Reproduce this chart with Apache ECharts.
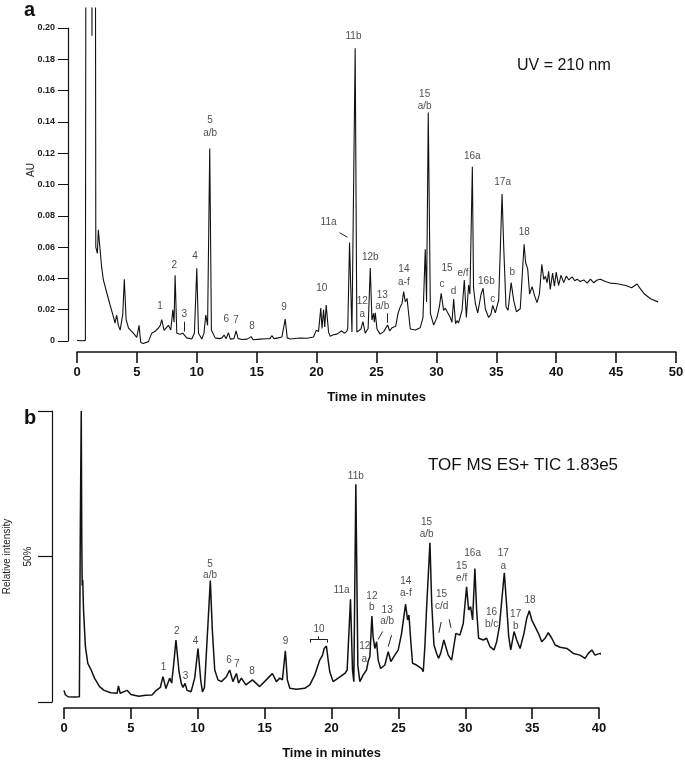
<!DOCTYPE html>
<html><head><meta charset="utf-8">
<script src="https://cdn.jsdelivr.net/npm/echarts@6/dist/echarts.min.js"></script>
<style>html,body{margin:0;padding:0;background:#fff}#c{width:685px;height:760px}</style>
</head><body><div id="c"></div>
<script>
// ---- Panel a : UV 210 nm chromatogram (time in min, absorbance in AU) ----
const uvTime = [0.0,0.5,0.7,0.78,1.2,1.25,1.3,1.5,1.57,1.7,1.78,1.92,2.06,2.2,2.48,2.76,2.95,3.03,3.18,3.31,3.45,3.6,3.82,3.95,4.1,4.3,4.43,4.7,4.99,5.18,5.32,5.54,5.96,6.24,6.5,6.8,6.95,7.07,7.27,7.63,7.83,8.0,8.1,8.19,8.33,8.6,8.83,8.97,9.16,9.58,9.8,10.0,10.14,10.42,10.6,10.75,10.9,11.08,11.22,11.53,11.9,12.1,12.28,12.45,12.64,12.8,13.1,13.28,13.45,13.8,14.2,14.54,14.7,15.3,15.8,16.1,16.26,16.45,16.8,17.1,17.38,17.55,17.65,17.8,18.6,19.2,19.74,19.97,20.16,20.35,20.45,20.58,20.68,20.8,21.0,21.14,21.4,21.7,22.1,22.3,22.5,22.6,22.75,22.95,23.1,23.22,23.36,23.7,23.87,24.06,24.3,24.48,24.62,24.75,24.82,24.9,25.04,25.3,25.6,25.93,26.1,26.3,26.6,26.8,27.0,27.13,27.27,27.4,27.55,27.68,27.82,28.24,28.65,28.88,29.07,29.18,29.32,29.5,29.77,30.05,30.25,30.4,30.6,30.75,30.9,31.16,31.3,31.44,31.6,31.72,31.85,32.14,32.33,32.5,32.69,32.8,33.0,33.1,33.25,33.45,33.73,33.9,34.08,34.36,34.55,34.7,34.92,35.2,35.48,35.62,35.81,35.98,36.24,36.45,36.68,37.0,37.32,37.45,37.62,37.78,37.99,38.2,38.4,38.6,38.8,38.96,39.1,39.24,39.37,39.5,39.7,39.85,40.0,40.2,40.4,40.63,40.85,41.05,41.33,41.55,41.75,42.0,42.3,42.58,42.86,43.13,43.42,43.7,44.1,44.5,45.1,45.8,46.3,46.75,47.0,47.37,47.87,48.5];
const uvAbs = [0.0003,0.0002,0.0004,0.5,0.5,0.195,0.5,0.5,0.06,0.056,0.071,0.072,0.047,0.039,0.031,0.023,0.018,0.018,0.0115,0.0166,0.010,0.007,0.017,0.0395,0.0136,0.0083,0.0085,0.005,0.0023,0.010,-0.001,-0.0016,-0.0004,0.005,0.006,0.0083,0.010,0.0137,0.0068,0.010,0.007,0.020,0.012,0.042,0.005,0.0043,0.005,0.0045,0.002,0.0013,0.005,0.0465,0.005,0.0013,0.005,0.0166,0.010,0.123,0.007,0.002,0.0015,0.002,0.0038,0.0015,0.0053,0.0012,0.0015,0.0064,0.0015,0.001,0.0012,0.0028,0.0008,0.0012,0.0014,0.0015,0.0034,0.0015,0.002,0.0025,0.014,0.002,0.003,0.0013,0.0019,0.0018,0.0025,0.0068,0.006,0.021,0.008,0.020,0.009,0.023,0.0055,0.003,0.004,0.0044,0.0065,0.005,0.006,0.008,0.063,0.0057,0.006,0.187,0.0057,0.0077,0.0124,0.005,0.008,0.0466,0.0134,0.0177,0.012,0.018,0.0077,0.0044,0.006,0.0102,0.0064,0.0085,0.0094,0.0177,0.0221,0.024,0.0315,0.0251,0.0272,0.0177,0.0077,0.007,0.0085,0.015,0.0586,0.025,0.146,0.0177,0.0102,0.0151,0.022,0.0305,0.0196,0.021,0.0187,0.015,0.012,0.0268,0.011,0.013,0.0115,0.0196,0.039,0.015,0.0358,0.03,0.1114,0.034,0.024,0.018,0.030,0.0337,0.0206,0.015,0.017,0.0228,0.018,0.0262,0.094,0.060,0.0219,0.0196,0.0373,0.026,0.0187,0.0206,0.0618,0.050,0.0461,0.030,0.0347,0.0288,0.0245,0.030,0.049,0.0393,0.0413,0.0372,0.0445,0.033,0.0434,0.035,0.044,0.0356,0.042,0.0373,0.0415,0.039,0.041,0.0385,0.0395,0.038,0.039,0.037,0.0395,0.0372,0.039,0.0395,0.038,0.037,0.0366,0.0355,0.034,0.0364,0.0336,0.030,0.027,0.025];

// peak annotations panel a: [time, AU, text]
const uvLabels = [[6.93,0.0219,'1'],[8.13,0.0486,'2'],[8.96,0.0173,'3'],[9.86,0.0539,'4'],[11.11,0.1408,'5'],[11.11,0.1327,'a/b'],[12.47,0.0139,'6'],[13.28,0.013,'7'],[14.6,0.0096,'8'],[17.29,0.0213,'9'],[20.44,0.0337,'10'],[21.0,0.0762,'11a'],[23.08,0.1949,'11b'],[23.81,0.0251,'12'],[23.81,0.0173,'a'],[24.48,0.0532,'12b'],[25.48,0.0294,'13'],[25.48,0.0219,'a/b'],[27.29,0.0458,'14'],[27.29,0.0375,'a-f'],[29.02,0.1578,'15'],[29.02,0.1502,'a/b'],[30.88,0.0468,'15'],[30.47,0.0364,'c'],[31.44,0.032,'d'],[32.22,0.0433,'e/f'],[33.0,0.1182,'16a'],[34.17,0.0383,'16b'],[34.7,0.0266,'c'],[35.53,0.1012,'17a'],[36.34,0.0437,'b'],[37.34,0.0692,'18']];
// leader strokes panel a: [t1, v1, t2, v2]
const uvLeaders = [[8.96,0.0123,8.96,0.006],[21.92,0.0692,22.58,0.0663],[25.93,0.0177,25.93,0.0117]];

// ---- Panel b : TOF MS ES+ TIC (time in min, relative intensity %) ----
const msTime = [0.0,0.1,0.3,0.8,1.15,1.22,1.29,1.33,1.36,1.4,1.46,1.6,1.78,2.03,2.28,2.66,3.0,3.5,3.97,4.07,4.2,4.72,5.0,5.6,6.1,6.58,6.9,7.2,7.4,7.62,7.9,8.05,8.22,8.37,8.6,8.77,8.9,9.05,9.2,9.5,9.77,10.02,10.22,10.35,10.5,10.59,10.72,10.94,11.09,11.27,11.51,11.77,12.14,12.39,12.63,12.89,13.05,13.26,13.6,14.09,14.63,15.25,15.58,15.88,16.13,16.33,16.55,16.7,16.88,17.38,18.0,18.38,18.75,19.12,19.33,19.45,19.62,19.75,19.87,20.12,20.5,21.0,21.17,21.42,21.57,21.67,21.82,21.97,22.12,22.37,22.62,22.74,22.87,23.02,23.11,23.24,23.37,23.49,23.67,23.99,24.24,24.44,24.66,24.99,25.24,25.54,25.69,25.79,25.94,26.06,26.36,26.74,26.86,26.98,27.11,27.36,27.49,27.66,27.86,28.0,28.16,28.4,28.73,28.98,29.3,29.6,29.85,30.1,30.25,30.4,30.55,30.72,30.85,31.0,31.35,31.6,31.85,32.15,32.35,32.55,32.92,33.1,33.25,33.4,33.65,33.85,34.1,34.39,34.6,34.79,34.97,35.22,35.47,35.72,35.97,36.21,36.47,36.72,37.09,37.6,38.08,38.58,38.96,39.2,39.46,39.7,40.08,40.46];
const msRel = [4.0,2.5,1.8,1.7,1.8,60,100,55,40,42,31.6,19,13.3,11,8.2,5.3,4.0,3.2,3.0,5.5,3.0,4.0,2.6,2.0,2.3,2.4,4.0,5.0,8.7,4.6,8.2,6.5,13.8,21.3,10.4,6.4,5.0,6.4,4.0,3.5,8.2,18.4,7.6,3.5,5.0,12.1,12.5,41.7,24.7,11,7.6,7,8.7,11,7,9.8,6.5,8.2,5.9,7.6,5.3,8.2,9.8,7,8.2,7.6,17.6,7.6,4.7,4.4,4.7,5.9,9.3,14.4,16.1,18.4,19.2,14.4,10.4,7,8.2,9.8,11,35.3,11,7,74.8,12.5,7,9.3,11,13.9,15.6,29.5,22.4,18.4,20.7,14.4,11.5,12.7,17.3,13.9,15.6,17.9,23.6,33.6,28.2,29.9,20.2,13.3,12.7,11.5,10.4,19,32.3,54.7,34.1,19.6,16.7,15,16.7,21.3,16.1,14.4,23.6,23,27,39.6,31.6,32.8,28.2,45.9,31.6,21.9,21.3,21.9,19,17.9,20.7,25.9,44.4,32.8,22.5,17.9,24.2,21.3,18.4,23.6,28.8,31.4,28.2,25.9,23.6,20.7,21.9,23.8,21.9,19.6,18.8,18.4,16.7,16.1,15,16.7,17.9,16.1,16.7,15.6];

// peak annotations panel b: [time, %, text]
const msLabels = [[7.45,11.9,'1'],[8.44,24.2,'2'],[9.09,9.0,'3'],[9.84,21.0,'4'],[10.92,47.4,'5'],[10.92,43.4,'a/b'],[12.34,14.2,'6'],[12.91,12.9,'7'],[14.06,10.7,'8'],[16.56,21.0,'9'],[19.07,25.1,'10'],[20.75,38.3,'11a'],[21.82,77.7,'11b'],[23.02,36.4,'12'],[23.02,32.4,'b'],[22.49,19.2,'12'],[22.45,14.8,'a'],[24.16,31.6,'13'],[24.16,27.6,'a/b'],[25.56,41.6,'14'],[25.56,37.3,'a-f'],[27.11,61.6,'15'],[27.11,57.7,'a/b'],[28.23,37.1,'15'],[28.23,32.8,'c/d'],[29.73,46.7,'15'],[29.73,42.5,'e/f'],[30.55,51.1,'16a'],[32.84,51.1,'17'],[32.84,46.7,'a'],[31.97,31.0,'16'],[31.97,26.8,'b/c'],[33.77,30.2,'17'],[33.77,26.1,'b'],[34.84,35.1,'18']];
// leader strokes and bracket panel b: [t1, p1, t2, p2]
const msLeaders = [[23.49,21.5,23.82,24.2],[24.24,19.0,24.49,23.0],[28.03,23.8,28.2,27.5],[28.8,28.4,28.93,25.5],[18.38,21.6,19.67,21.6],[18.38,21.6,18.38,20.4],[19.67,21.6,19.67,20.4],[19.03,21.6,19.03,22.6]];

const FONT = '"Liberation Sans", Arial, sans-serif';
const INK = '#111';
const pairs = (xs, ys) => xs.map((x, i) => [x, ys[i]]);
const seg = arr => arr.map(s => [{coord: [s[0], s[1]]}, {coord: [s[2], s[3]]}]);
const labelSeries = (data, xi, yi) => ({
  type: 'scatter', xAxisIndex: xi, yAxisIndex: yi, data: data,
  symbolSize: 1, itemStyle: {color: 'rgba(0,0,0,0)'}, silent: true, z: 5, clip: false,
  label: {show: true, position: 'inside', formatter: p => p.value[2],
          color: '#1a1a1a', fontSize: 10, fontFamily: FONT}
});
const timeAxis = (gi, max, off) => ({
  gridIndex: gi, type: 'value', min: 0, max: max, interval: 5, offset: off,
  axisLine: {onZero: false, lineStyle: {color: INK, width: 1.6}},
  axisTick: {length: 11, lineStyle: {color: INK, width: 1.6}},
  axisLabel: {color: INK, fontSize: 13, fontWeight: 'bold', fontFamily: FONT, margin: 14},
  splitLine: {show: false},
  name: 'Time in minutes', nameLocation: 'middle', nameGap: 39,
  nameTextStyle: {color: INK, fontSize: 13, fontWeight: 'bold', fontFamily: FONT}
});

const option = {
  animation: false,
  backgroundColor: '#fff',
  grid: [
    {left: 77, right: 9, top: 8, height: 337, outerBoundsMode: 'none', containLabel: false},
    {left: 77, right: 9, top: 28, height: 313, outerBoundsMode: 'none', containLabel: false},
    {left: 64, right: 86, top: 411, height: 291, outerBoundsMode: 'none', containLabel: false}
  ],
  xAxis: [
    timeAxis(0, 50, 7),
    {gridIndex: 1, type: 'value', min: 0, max: 50, show: false},
    timeAxis(2, 40, 6)
  ],
  yAxis: [
    {gridIndex: 0, type: 'value', min: -0.00256, max: 0.2128, show: false},
    {gridIndex: 1, type: 'value', min: 0, max: 0.2, interval: 0.02, offset: 9,
     axisLine: {show: true, onZero: false, lineStyle: {color: INK, width: 1.2}},
     axisTick: {show: true, length: 10, lineStyle: {color: INK, width: 1}},
     axisLabel: {color: '#222', fontSize: 9, fontWeight: 'bold', fontFamily: FONT, margin: 13,
                 formatter: v => v === 0 ? '0' : v.toFixed(2)},
     splitLine: {show: false}},
    {gridIndex: 2, type: 'value', min: 0, max: 100, interval: 50, offset: 12,
     axisLine: {show: true, onZero: false, lineStyle: {color: INK, width: 1.2}},
     axisTick: {show: true, length: 14, lineStyle: {color: INK, width: 1.2}},
     axisLabel: {color: '#222', fontSize: 10, fontFamily: FONT, rotate: 90, margin: 19,
                 formatter: v => v === 50 ? '50%' : ''},
     splitLine: {show: false},
     name: 'Relative intensity', nameLocation: 'middle', nameGap: 40,
     nameTextStyle: {color: '#222', fontSize: 10, fontFamily: FONT}}
  ],
  graphic: [
    {type: 'text', left: 24, top: 0, style: {text: 'a', font: 'bold 20px ' + FONT, fill: INK}},
    {type: 'text', left: 24, top: 408, style: {text: 'b', font: 'bold 20px ' + FONT, fill: INK}},
    {type: 'text', left: 26, top: 163, rotation: Math.PI / 2,
     style: {text: 'AU', font: '10px ' + FONT, fill: '#222'}},
    {type: 'text', left: 517, top: 58, style: {text: 'UV = 210 nm', font: '16px ' + FONT, fill: '#111'}},
    {type: 'text', left: 428, top: 457, style: {text: 'TOF MS ES+ TIC 1.83e5', font: '17px ' + FONT, fill: '#111'}}
  ],
  series: [
    {type: 'line', xAxisIndex: 0, yAxisIndex: 0, data: pairs(uvTime, uvAbs),
     showSymbol: false, clip: true, lineStyle: {color: INK, width: 1.1},
     markLine: {silent: true, symbol: ['none', 'none'], label: {show: false},
                lineStyle: {type: 'solid', color: '#222', width: 1}, data: seg(uvLeaders)}},
    labelSeries(uvLabels, 0, 0),
    {type: 'line', xAxisIndex: 2, yAxisIndex: 2, data: pairs(msTime, msRel),
     showSymbol: false, clip: false, lineStyle: {color: INK, width: 1.5},
     markLine: {silent: true, symbol: ['none', 'none'], label: {show: false},
                lineStyle: {type: 'solid', color: '#222', width: 1}, data: seg(msLeaders)}},
    labelSeries(msLabels, 2, 2)
  ]
};
const chart = echarts.init(document.getElementById('c'), null, {renderer: 'canvas'});
chart.setOption(option);
</script></body></html>
